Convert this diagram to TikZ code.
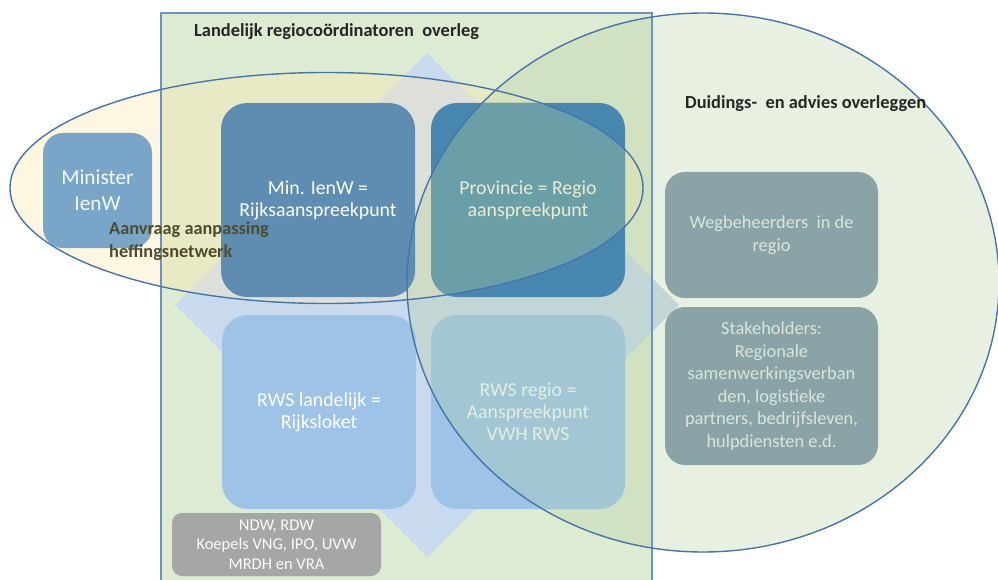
\documentclass[tikz,border=0pt]{standalone}
\usepackage{fontspec}
\setmainfont{Carlito}

\definecolor{overleggroen}{HTML}{DDEBD3}
\definecolor{ruitblauw}{HTML}{C9DAEF}
\definecolor{ellipsgeel}{HTML}{FBEAB3}
\definecolor{cirkelgroen}{HTML}{B2D09B}
\definecolor{lijnblauw}{HTML}{4674AD}
\definecolor{randblauw}{HTML}{6C93C2}
\definecolor{minblauw}{HTML}{5E8DB1}
\definecolor{provblauw}{HTML}{4787B0}
\definecolor{provteal}{HTML}{6B9FA8}
\definecolor{rwsblauw}{HTML}{9DC3E6}
\definecolor{rwstint}{HTML}{A2C6D3}
\definecolor{ministerblauw}{HTML}{79A5C9}
\definecolor{wegbeheer}{HTML}{8AA3A6}
\definecolor{ndwgrijs}{HTML}{A6A6A6}
\definecolor{kopzwart}{HTML}{262626}
\definecolor{aanvraagolijf}{HTML}{4E4B2C}
\definecolor{tekstgrijs}{HTML}{DCE5DC}
\definecolor{provtekst}{HTML}{EFEBCB}
\definecolor{regiotekst}{HTML}{E4EEDF}

\begin{document}
\begin{tikzpicture}[x=1pt,y=-1pt,
  vak/.style={rectangle,rounded corners=26pt,minimum width=194pt,minimum height=194pt,
    inner sep=0pt,align=center,font=\fontsize{19.8}{22}\selectfont},
  grijsvak/.style={rectangle,rounded corners=20pt,fill=wegbeheer,text=tekstgrijs,
    minimum width=213pt,inner sep=0pt,align=center,font=\fontsize{18.4}{22.6}\selectfont},
  kop/.style={anchor=west,inner sep=0pt,font=\fontsize{18.4}{22}\selectfont\bfseries,text=kopzwart},
  omlijn/.style={draw=lijnblauw,line width=1.4pt}]
\useasboundingbox (0,0) rectangle (998,580);
\clip (0,0) rectangle (998,580);
\coordinate (aanvraagmidden) at (326.5,188);
\coordinate (duidingmidden) at (703,282.5);

% landelijk overleg en ruit
\fill[overleggroen] (161,13) rectangle (652,600);
\fill[ruitblauw] (427,53) -- (679,305) -- (427,557) -- (175,305) -- cycle;

% doorschijnende ellips en cirkel
\fill[ellipsgeel,fill opacity=.38] (aanvraagmidden) ellipse [x radius=316.5pt,y radius=115.5pt];
\fill[cirkelgroen,fill opacity=.3] (duidingmidden) ellipse [x radius=296pt,y radius=269.5pt];

% matrix
\node[vak,fill=minblauw,text=white] (min) at (318,200) {Min. IenW =\\Rijksaanspreekpunt};
\node[vak,fill=provblauw,text=provtekst,
  path picture={\begin{scope}
    \clip (aanvraagmidden) ellipse [x radius=316.5pt,y radius=115.5pt];
    \fill[provteal] (duidingmidden) ellipse [x radius=296pt,y radius=269.5pt];
  \end{scope}}] (prov) at (528,200) {Provincie = Regio\\aanspreekpunt};
\node[vak,fill=rwsblauw,text=white] (rwsland) at (319,412) {RWS landelijk =\\Rijksloket};
\node[vak,fill=rwsblauw,text=regiotekst,
  path picture={\fill[rwstint] (duidingmidden) ellipse [x radius=296pt,y radius=269.5pt];}]
  (rwsregio) at (528,412) {RWS regio =\\Aanspreekpunt\\VWH RWS};

\node[rectangle,rounded corners=20pt,fill=ministerblauw,text=white!93!ministerblauw,
  minimum width=109pt,minimum height=115pt,inner sep=0pt,align=center,
  font=\fontsize{21.3}{26}\selectfont] (minister) at (97.5,190.5) {Minister\\IenW};
\node[rectangle,rounded corners=10pt,fill=ndwgrijs,text=white!95!ndwgrijs,
  minimum width=209pt,minimum height=63pt,inner sep=0pt,align=center,
  font=\fontsize{16.5}{19.5}\selectfont] (ndw) at (276.5,544.5)
  {NDW, RDW\\Koepels VNG, IPO, UVW\\MRDH en VRA};

\node[grijsvak,minimum height=126pt] (weg) at (771.5,235) {Wegbeheerders~ in de\\regio};
\node[grijsvak,minimum height=158pt] (stake) at (771.5,386)
  {Stakeholders:\\Regionale\\samenwerkingsverban\\den, logistieke\\partners, bedrijfsleven,\\hulpdiensten e.d.};

% lijnen
\draw[draw=randblauw,line width=1.3pt] (161,13) rectangle (652,600);
\draw[omlijn] (aanvraagmidden) ellipse [x radius=316.5pt,y radius=115.5pt];
\draw[omlijn] (duidingmidden) ellipse [x radius=296pt,y radius=269.5pt];

% teksten
\node[kop] (titel) at (194,32) {Landelijk regiocoördinatoren~ overleg};
\node[kop] (duiding) at (685,104) {Duidings-~ en advies overleggen};
\node[kop,text=aanvraagolijf,align=left,font=\fontsize{18.3}{22.5}\selectfont\bfseries]
  (aanvraag) at (109,241) {Aanvraag aanpassing\\heffingsnetwerk};
\end{tikzpicture}
\end{document}
